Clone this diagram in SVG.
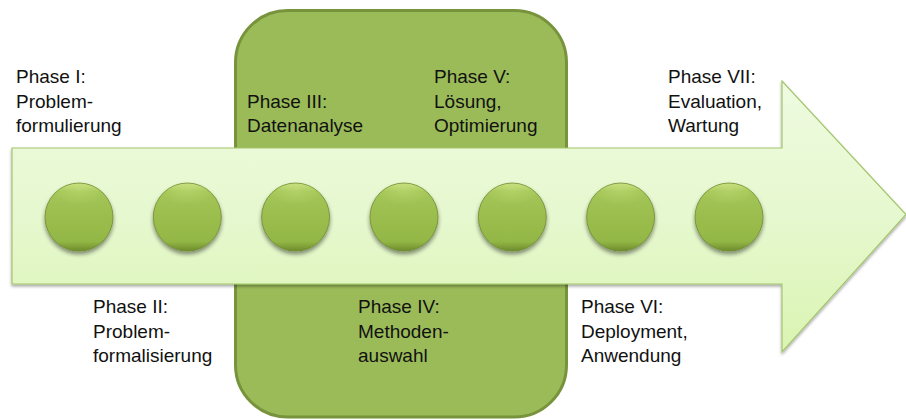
<svg xmlns="http://www.w3.org/2000/svg" width="906" height="419" viewBox="0 0 906 419">
  <style>
    .lbl { font-family: "Liberation Sans", Arial, sans-serif; font-size: 19px; fill: #111111; }
    .dot { fill: url(#dotFill); stroke: #6f8c2f; stroke-width: 0.8; filter: url(#dotShadow); }
    .shine { fill: url(#dotShine); }
  </style>
  <defs>
    <linearGradient id="arrowFill" x1="0" y1="0" x2="0" y2="1">
      <stop offset="0" stop-color="#eefbe0"/>
      <stop offset="0.5" stop-color="#e6f8cf"/>
      <stop offset="1" stop-color="#daf4b2"/>
    </linearGradient>
    <linearGradient id="dotFill" x1="0" y1="0" x2="0" y2="1">
      <stop offset="0" stop-color="#c4de7a"/>
      <stop offset="0.12" stop-color="#a4c657"/>
      <stop offset="0.5" stop-color="#9bbd4e"/>
      <stop offset="0.86" stop-color="#93b746"/>
      <stop offset="1" stop-color="#6d8c2c"/>
    </linearGradient>
    <radialGradient id="dotShine" cx="0.5" cy="0.15" r="0.5">
      <stop offset="0" stop-color="#d9ee95" stop-opacity="0.3"/>
      <stop offset="1" stop-color="#d9ee95" stop-opacity="0"/>
    </radialGradient>
    <filter id="dotShadow" x="-30%" y="-30%" width="160%" height="170%">
      <feGaussianBlur in="SourceAlpha" stdDeviation="2.2"/>
      <feOffset dx="0" dy="3" result="b"/>
      <feComponentTransfer><feFuncA type="linear" slope="0.45"/></feComponentTransfer>
      <feMerge><feMergeNode/><feMergeNode in="SourceGraphic"/></feMerge>
    </filter>
    <filter id="arrowShadow" x="-5%" y="-10%" width="110%" height="125%">
      <feGaussianBlur in="SourceAlpha" stdDeviation="1.5"/>
      <feOffset dx="0" dy="2"/>
      <feComponentTransfer><feFuncA type="linear" slope="0.35"/></feComponentTransfer>
      <feMerge><feMergeNode/><feMergeNode in="SourceGraphic"/></feMerge>
    </filter>
  </defs>

  <rect width="906" height="419" fill="#ffffff"/>

  <!-- central grouping panel behind the process arrow -->
  <g id="panel">
    <rect x="235.5" y="10.5" width="331" height="406.5" rx="52" ry="52" fill="#9bbb59" stroke="#77933c" stroke-width="3"/>
  </g>

  <!-- process arrow -->
  <g id="connectors">
    <path d="M12 148 H782 V81 L906 214.5 L782 352 V284 H12 Z" fill="url(#arrowFill)" stroke="#a3c56c" stroke-width="1.2" filter="url(#arrowShadow)"/>
  </g>

  <g id="phase1">
    <circle class="dot" cx="79" cy="217" r="34"/>
    <ellipse class="shine" cx="79" cy="200" rx="28" ry="16"/>
    <text class="lbl" x="16" y="83">Phase I:</text>
    <text class="lbl" x="16" y="107.5">Problem-</text>
    <text class="lbl" x="16" y="132">formulierung</text>
  </g>

  <g id="phase2">
    <circle class="dot" cx="187.3" cy="217" r="34"/>
    <ellipse class="shine" cx="187.3" cy="200" rx="28" ry="16"/>
    <text class="lbl" x="93" y="313">Phase II:</text>
    <text class="lbl" x="93" y="337.5">Problem-</text>
    <text class="lbl" x="93" y="362">formalisierung</text>
  </g>

  <g id="phase3">
    <circle class="dot" cx="295.6" cy="217" r="34"/>
    <ellipse class="shine" cx="295.6" cy="200" rx="28" ry="16"/>
    <text class="lbl" x="247" y="107.5">Phase III:</text>
    <text class="lbl" x="247" y="132">Datenanalyse</text>
  </g>

  <g id="phase4">
    <circle class="dot" cx="404" cy="217" r="34"/>
    <ellipse class="shine" cx="404" cy="200" rx="28" ry="16"/>
    <text class="lbl" x="358" y="313">Phase IV:</text>
    <text class="lbl" x="358" y="337.5">Methoden-</text>
    <text class="lbl" x="358" y="362">auswahl</text>
  </g>

  <g id="phase5">
    <circle class="dot" cx="512.3" cy="217" r="34"/>
    <ellipse class="shine" cx="512.3" cy="200" rx="28" ry="16"/>
    <text class="lbl" x="434" y="83">Phase V:</text>
    <text class="lbl" x="434" y="107.5">Lösung,</text>
    <text class="lbl" x="434" y="132">Optimierung</text>
  </g>

  <g id="phase6">
    <circle class="dot" cx="620.6" cy="217" r="34"/>
    <ellipse class="shine" cx="620.6" cy="200" rx="28" ry="16"/>
    <text class="lbl" x="581" y="313">Phase VI:</text>
    <text class="lbl" x="581" y="337.5">Deployment,</text>
    <text class="lbl" x="581" y="362">Anwendung</text>
  </g>

  <g id="phase7">
    <circle class="dot" cx="729" cy="217" r="34"/>
    <ellipse class="shine" cx="729" cy="200" rx="28" ry="16"/>
    <text class="lbl" x="668" y="83">Phase VII:</text>
    <text class="lbl" x="668" y="107.5">Evaluation,</text>
    <text class="lbl" x="668" y="132">Wartung</text>
  </g>
</svg>
